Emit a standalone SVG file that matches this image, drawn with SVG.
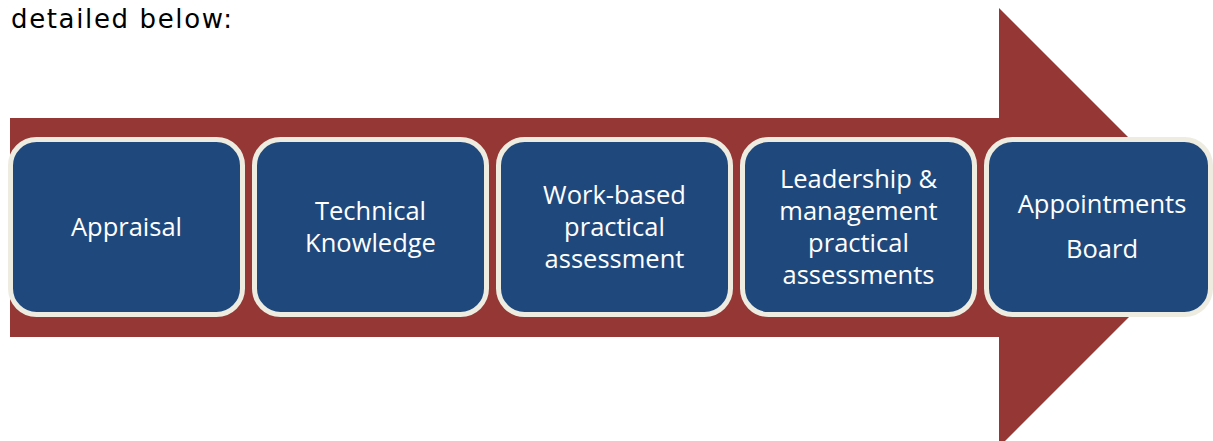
<svg xmlns="http://www.w3.org/2000/svg" width="1213" height="441" viewBox="0 0 1213 441">
<style>
.box{fill:#1F497D;stroke:#EEECE1;stroke-width:5}
.lbl{font-family:"Open Sans","Noto Sans",sans-serif;font-size:25.5px;fill:#FFFFFF;text-anchor:middle}
.hdr{font-family:"DejaVu Sans",sans-serif;font-size:26px;fill:#000000}
</style>
<rect width="1213" height="441" fill="#FFFFFF"/>
<text class="hdr" x="11" y="28" textLength="221" lengthAdjust="spacing">detailed below:</text>
<g id="arrow">
<polygon points="10,118 999,118 999,8 1213,222 1213,233 999,447 999,337 10,337" fill="#953735"/>
</g>
<g id="connectors"></g>
<g id="n1">
<rect class="box" x="10.5" y="139.5" width="232" height="175" rx="26"/>
<text class="lbl" x="126.5" y="236">Appraisal</text>
</g>
<g id="n2">
<rect class="box" x="254.5" y="139.5" width="232" height="175" rx="26"/>
<text class="lbl" x="370.5" y="220">Technical</text>
<text class="lbl" x="370.5" y="252">Knowledge</text>
</g>
<g id="n3">
<rect class="box" x="498.5" y="139.5" width="232" height="175" rx="26"/>
<text class="lbl" x="614.5" y="204">Work-based</text>
<text class="lbl" x="614.5" y="236">practical</text>
<text class="lbl" x="614.5" y="268">assessment</text>
</g>
<g id="n4">
<rect class="box" x="742.5" y="139.5" width="232" height="175" rx="26"/>
<text class="lbl" x="858.5" y="188">Leadership &amp;</text>
<text class="lbl" x="858.5" y="220">management</text>
<text class="lbl" x="858.5" y="252">practical</text>
<text class="lbl" x="858.5" y="284">assessments</text>
</g>
<g id="n5">
<rect class="box" x="986.5" y="139.5" width="224" height="175" rx="26"/>
<text class="lbl" x="1102" y="213">Appointments</text>
<text class="lbl" x="1102" y="258">Board</text>
</g>
</svg>
